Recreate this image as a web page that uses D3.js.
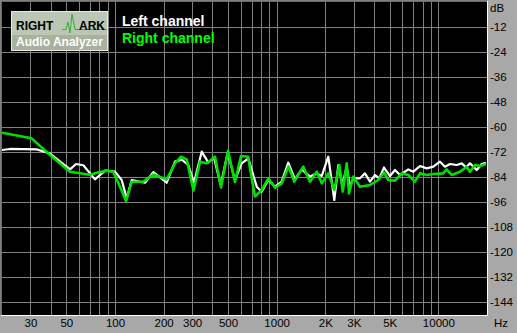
<!DOCTYPE html>
<html><head><meta charset="utf-8">
<script src="https://cdn.jsdelivr.net/npm/d3@7"></script>
<style>html,body{margin:0;padding:0;background:#a8a8a8;}svg{display:block;}</style>
</head><body>
<svg id="c" width="517" height="333"></svg>
<script>
// ---- data ----
const leftFreq = [20,22.4,32.8,39.6,52.7,57.4,63.7,75.2,86.7,100,110,118.1,126.9,153.3,172.6,208.8,235,258.6,284.2,308,343.8,377.8,409.6,450.6,498,552,607.8,667.8,752.6,808,888,977,1074,1180,1298,1428,1607,1769,1899,2086,2273,2406,2548,2712,2842,2978,3276,3518,3778,4058,4314,4614,5024,5394,5792,6522,7002,7702,8472,9308,10242,10996,11808,12990,13950,14826,15698,17276,18548,19716];
const leftDb = [-70.9,-70.4,-70.6,-72.6,-80.2,-77.6,-78.2,-85.0,-80.8,-81.3,-85.3,-94.1,-85.3,-86.6,-81.5,-86.6,-76.5,-75.5,-78.1,-86.6,-71.7,-76.9,-74.6,-87.7,-72.2,-85.3,-77.3,-74.9,-88.5,-90.9,-85.3,-88.5,-86.1,-77.0,-85.0,-80.2,-83.7,-82.1,-83.4,-74.1,-94.9,-78.1,-87.7,-78.9,-88.5,-84.5,-84.5,-82.1,-86.1,-82.9,-84.5,-79.3,-83.4,-80.5,-82.9,-80.2,-81.3,-78.6,-79.7,-78.9,-76.5,-78.9,-77.6,-78.1,-77.3,-79.2,-77.3,-80.5,-77.6,-77.0];
const rightFreq = [20,30.5,39.6,52.7,70,77.4,88.9,97.6,107.4,117,126.9,149.6,172.6,208.8,235,256,277.6,305.8,335.4,369.2,415.6,452.5,500,552,601.8,665,734,808,888,977,1074,1184,1285,1461,1607,1769,1899,2086,2273,2440,2562,2712,2802,2978,3276,3778,4252,4614,4904,5394,5935,6522,7172,7702,8472,9308,10732,11264,12096,13616,14978,15698,16860,18100,19716];
const rightDb = [-62.6,-65.3,-73.3,-81.3,-82.8,-81.8,-80.8,-81.3,-88.5,-95.4,-86.1,-86.1,-82.7,-85.0,-77.3,-74.1,-75.4,-90.3,-76.5,-77.3,-74.1,-88.9,-71.2,-86.3,-73.8,-74.1,-93.2,-90.2,-84.5,-89.0,-86.9,-78.8,-86.1,-78.9,-86.1,-81.3,-86.9,-82.1,-90.1,-78.1,-90.9,-77.3,-91.7,-83.7,-88.5,-87.7,-85.3,-81.7,-85.3,-85.6,-82.1,-82.9,-86.1,-82.1,-82.9,-82.4,-82.1,-80.2,-82.9,-81.3,-78.9,-81.3,-78.1,-78.6,-77.6];
const xGrid = [30,40,50,60,70,80,90,100,200,300,400,500,600,700,800,900,1000,2000,3000,4000,5000,6000,7000,8000,9000,10000];
const xTickVals = [30,50,100,200,300,500,1000,2000,3000,5000,10000];
const xTickLabels = ["30","50","100","200","300","500","1000","2K","3K","5K","10000"];
const yTickVals = [-12,-24,-36,-48,-60,-72,-84,-96,-108,-120,-132,-144];
const seriesNames = ["Left channel","Right channel"];

// ---- layout ----
const svg = d3.select("#c");
const X0 = 2, X1 = 487, Y0 = 2.3, Y1 = 314.8;
const x = d3.scaleLog().domain([20,20000]).range([X0,X1]);
const y = d3.scaleLinear().domain([0,-150]).range([Y0,Y1]);
const font = "'Liberation Sans', Arial, sans-serif";

svg.append("rect").attr("x",0).attr("y",0).attr("width",517).attr("height",333).attr("fill","#a8a8a8");
svg.append("rect").attr("x",X0).attr("y",2).attr("width",X1-X0).attr("height",313).attr("fill","#000");
// sunken frame
svg.append("path").attr("d",`M0.5,315 V0.5 H487`).attr("stroke","#808080").attr("stroke-width",1).attr("fill","none");
svg.append("path").attr("d",`M1.5,315 V1.5 H487`).attr("stroke","#6a6a6a").attr("stroke-width",1).attr("fill","none");
svg.append("path").attr("d",`M1,315.5 H487.5 V1`).attr("stroke","#fff").attr("stroke-width",1).attr("fill","none");

// grid
const g = svg.append("g");
g.selectAll("line.v").data(xGrid).join("line")
  .attr("x1",d=>Math.round(x(d))+0.5).attr("x2",d=>Math.round(x(d))+0.5)
  .attr("y1",2).attr("y2",315).attr("stroke","#808080").attr("stroke-width",1);
g.selectAll("line.h").data(yTickVals).join("line")
  .attr("y1",d=>Math.round(y(d))+0.5).attr("y2",d=>Math.round(y(d))+0.5)
  .attr("x1",X0).attr("x2",X1).attr("stroke","#808080").attr("stroke-width",1);

// axes (labels only)
const yAxis = d3.axisRight(y).tickValues(yTickVals).tickSize(0).tickPadding(0).tickFormat(d=>String(d));
const ya = svg.append("g").attr("transform",`translate(490,0)`).call(yAxis);
ya.select(".domain").remove();
ya.selectAll("text").attr("font-family",font).attr("font-size",11.5).attr("fill","#000").attr("x",0);

const xAxis = d3.axisBottom(x).tickValues(xTickVals).tickSize(0).tickPadding(0)
  .tickFormat((d,i)=>xTickLabels[i]);
const xa = svg.append("g").attr("transform",`translate(0,316)`).call(xAxis);
xa.select(".domain").remove();
xa.selectAll("text").attr("font-family",font).attr("font-size",11.5).attr("fill","#000").attr("dy","0").attr("y",11);

svg.append("text").attr("x",490).attr("y",12).attr("font-family",font).attr("font-size",11.5).attr("fill","#000").text("dB");
svg.append("text").attr("x",494).attr("y",327).attr("font-family",font).attr("font-size",11.5).attr("fill","#000").text("Hz");

// lines
const clip = svg.append("clipPath").attr("id","pc").append("rect").attr("x",X0).attr("y",2).attr("width",X1-X0).attr("height",313);
const line = d3.line().x(d=>x(d[0])).y(d=>y(d[1]));
const plot = svg.append("g").attr("clip-path","url(#pc)");
plot.append("path").datum(leftFreq.map((f,i)=>[f,leftDb[i]])).attr("d",line)
  .attr("fill","none").attr("stroke","#ffffff").attr("stroke-width",2.2).attr("stroke-linejoin","round");
plot.append("path").datum(rightFreq.map((f,i)=>[f,rightDb[i]])).attr("d",line)
  .attr("fill","none").attr("stroke","#00e000").attr("stroke-width",2.6).attr("stroke-linejoin","round");

// logo
const lg = svg.append("g");
lg.append("rect").attr("x",11.5).attr("y",11.5).attr("width",96).attr("height",39).attr("fill","#bcc6b4").attr("stroke","#e8ece4").attr("stroke-width",1);
lg.append("rect").attr("x",12).attr("y",35).attr("width",95).attr("height",15).attr("fill","#a8b09e");
lg.append("path").attr("d","M62,29.5 L66,29.5 L68,22 L70,33 L72,14 L75,29.5 L107,29.5")
  .attr("fill","none").attr("stroke","#30b030").attr("stroke-width",1);
lg.append("text").attr("x",16).attr("y",30).attr("font-family",font).attr("font-weight","bold").attr("font-size",12).attr("fill","#000").text("RIGHT");
lg.append("text").attr("x",79).attr("y",30).attr("font-family",font).attr("font-weight","bold").attr("font-size",12).attr("fill","#000").text("ARK");
lg.append("text").attr("x",16).attr("y",46).attr("font-family",font).attr("font-weight","bold").attr("font-size",12).attr("fill","#fff").text("Audio Analyzer");

// legend
svg.append("text").attr("x",122).attr("y",26).attr("font-family",font).attr("font-weight","bold").attr("font-size",14).attr("fill","#fff").text(seriesNames[0]);
svg.append("text").attr("x",122).attr("y",43).attr("font-family",font).attr("font-weight","bold").attr("font-size",14).attr("fill","#00ff00").text(seriesNames[1]);
</script>
</body></html>
